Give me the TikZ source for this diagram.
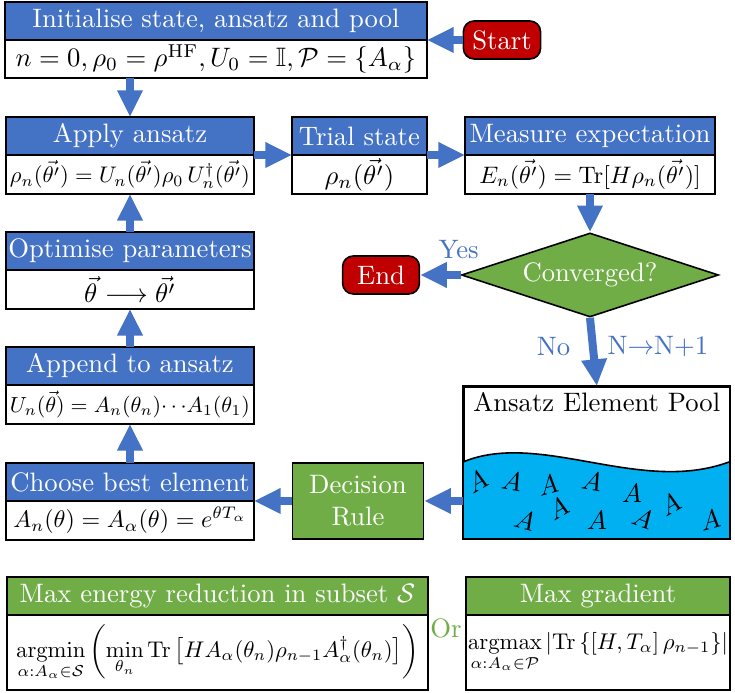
\documentclass[tikz,border=0pt]{standalone}
\usepackage{amsmath,amssymb}
\usepackage{graphicx}
\usetikzlibrary{shapes.geometric,arrows.meta,positioning}

\definecolor{ablue}{RGB}{68,114,196}
\definecolor{agreen}{RGB}{112,173,71}
\definecolor{ared}{RGB}{192,0,0}
\definecolor{acyan}{RGB}{0,176,240}

\begin{document}
\begin{tikzpicture}[
    x=0.375pt, y=-0.375pt,
    hdr/.style={
        rectangle,
        draw=black,
        fill=ablue,
        text=white,
        line width=0.6pt,
        inner sep=0pt,
        outer sep=0pt,
        minimum height=14.25pt,
        anchor=north west
    },
    ghdr/.style={hdr, fill=agreen},
    body/.style={
        rectangle,
        draw=black,
        fill=white,
        line width=0.6pt,
        inner sep=0pt,
        outer sep=0pt,
        minimum height=14.6pt
    },
    term/.style={
        rectangle,
        rounded corners=4pt,
        draw=black,
        fill=ared,
        text=white,
        line width=0.6pt,
        minimum width=28.8pt,
        minimum height=14.25pt
    },
    flow/.style={
        draw=ablue,
        line width=3pt,
        -{Triangle[length=10pt,width=9pt]}
    },
    lbl/.style={text=ablue, inner sep=1pt}
]
    \useasboundingbox (0,0) rectangle (735,693);

    % Create the start node and the initialisation box
    \node[term] (start) at (502,40) {Start};
    \node[hdr, minimum width=158.25pt] (hInit) at (5,2) {Initialise state, ansatz and pool};
    \node[body, minimum width=158.25pt, minimum height=14.25pt, below=0pt of hInit] (bInit)
        {$n=0, \rho_0=\rho^{\mathrm{HF}}, U_0=\mathbb{I}, \mathcal{P}=\{A_\alpha\}$};

    % Second row: apply ansatz, trial state, measure
    \node[hdr, minimum width=93pt] (hApply) at (6,117) {Apply ansatz};
    \node[body, minimum width=93pt, below=0pt of hApply] (bApply)
        {\resizebox{90pt}{!}{$\rho_n(\vec{\theta'})=U_n(\vec{\theta'})\rho_0\,U_n^\dagger(\vec{\theta'})$}};
    \node[hdr, minimum width=50.6pt] (hTrial) at (292,117) {Trial state};
    \node[body, minimum width=50.6pt, below=0pt of hTrial] (bTrial) {$\rho_n(\vec{\theta'})$};
    \node[hdr, minimum width=93.75pt] (hMeas) at (465,117) {Measure expectation};
    \node[body, minimum width=93.75pt, below=0pt of hMeas] (bMeas)
        {\resizebox{83pt}{!}{$E_n(\vec{\theta'})=\mathrm{Tr}[H\rho_n(\vec{\theta'})]$}};

    % Left column going upwards
    \node[hdr, minimum width=93pt] (hOpt) at (6,232) {Optimise parameters};
    \node[body, minimum width=93pt, below=0pt of hOpt] (bOpt) {$\vec{\theta}\longrightarrow\vec{\theta'}$};
    \node[hdr, minimum width=93pt] (hApp) at (6,347) {Append to ansatz};
    \node[body, minimum width=93pt, below=0pt of hApp] (bApp)
        {\resizebox{90pt}{!}{$U_n(\vec{\theta})=A_n(\theta_n)\!\cdots\! A_1(\theta_1)$}};
    \node[hdr, minimum width=93pt] (hChoose) at (6,463) {Choose best element};
    \node[body, minimum width=93pt, below=0pt of hChoose] (bChoose)
        {\resizebox{87.5pt}{!}{$A_n(\theta)=A_\alpha(\theta)=e^{\theta T_\alpha}$}};

    % Decision diamond and end node
    \node[diamond, aspect=3, draw=black, fill=agreen, text=white, line width=0.6pt,
        inner sep=0pt, minimum width=96.4pt, minimum height=31.5pt] (conv) at (590,275) {Converged?};
    \node[term] (end) at (381,275) {End};

    % Pool of ansatz elements
    \node[rectangle, draw=black, fill=white, line width=0.6pt, anchor=north west,
        minimum width=99.75pt, minimum height=57pt] (pool) at (463,386) {};
    \fill[acyan] (463,462) .. controls (540,430) and (640,495) .. (729,462)
        -- (729,538) -- (463,538) -- cycle;
    \draw[line width=0.6pt] (463,462) .. controls (540,430) and (640,495) .. (729,462);
    \draw[line width=0.6pt] (pool.south west) rectangle (pool.north east);
    \node (poolt) [below=-1pt of pool.north] {Ansatz Element Pool};
    \foreach \px/\py/\rot [count=\i] in {477/482/30, 512/481/-10, 548/485/15, 592/481/-10,
        632/493/0, 670/505/30, 525/520/-15, 558/509/30, 597/520/0, 643/518/-20, 710/520/15}
        \node[rotate=\rot, inner sep=0pt] (a\i) at (\px,\py) {$A$};

    % Decision rule
    \node[rectangle, draw=black, fill=agreen, text=white, line width=0.6pt, align=center,
        minimum width=49.1pt, minimum height=28.5pt] (dec) at (358,501) {Decision\\Rule};

    % Selection criteria at the bottom
    \node[ghdr, minimum width=157.9pt] (hMaxE) at (7,577) {Max energy reduction in subset $\mathcal{S}$};
    \node[body, minimum width=157.9pt, minimum height=28.1pt, below=0pt of hMaxE] (bMaxE)
        {\resizebox{151pt}{!}{$\displaystyle\operatorname*{argmin}_{\alpha:A_\alpha\in\mathcal{S}}
        \left(\min_{\theta_n}\mathrm{Tr}\left[HA_\alpha(\theta_n)\rho_{n-1}A^\dagger_\alpha(\theta_n)\right]\right)$}};
    \node[ghdr, minimum width=99pt] (hGrad) at (466,577) {Max gradient};
    \node[body, minimum width=99pt, minimum height=28.1pt, below=0pt of hGrad] (bGrad)
        {\resizebox{97.5pt}{!}{$\displaystyle\operatorname*{argmax}_{\alpha:A_\alpha\in\mathcal{P}}
        \left|\mathrm{Tr}\left\{[H,T_\alpha]\,\rho_{n-1}\right\}\right|$}};
    \node[text=agreen, inner sep=0pt] (or) at (446,628) {Or};

    % Draw the arrows between the boxes
    \draw[flow] (start.west) -- (hInit.south east);
    \draw[flow] (bInit.south -| hApply.north) -- (hApply.north);
    \draw[flow] (hApply.south east) -- (hTrial.south west);
    \draw[flow] (hTrial.south east) -- (hMeas.south west);
    \draw[flow] (bMeas.south) -- (conv.north);
    \draw[flow] (conv.west) -- node[lbl, pos=0.05, above=3.5pt] (yes) {Yes} (end.east);
    \draw[flow] (conv.south) -- node[lbl, pos=0.42, left=6pt] (no) {No}
        node[lbl, pos=0.42, right=3pt] (inc) {N$\to$N+1} (pool.north);
    \draw[flow] (dec.east -| pool.west) -- (dec.east);
    \draw[flow] (dec.west) -- (hChoose.south east);
    \draw[flow] (hChoose.north) -- (bApp.south);
    \draw[flow] (hApp.north) -- (bOpt.south);
    \draw[flow] (hOpt.north) -- (bApply.south);

\end{tikzpicture}
\end{document}
